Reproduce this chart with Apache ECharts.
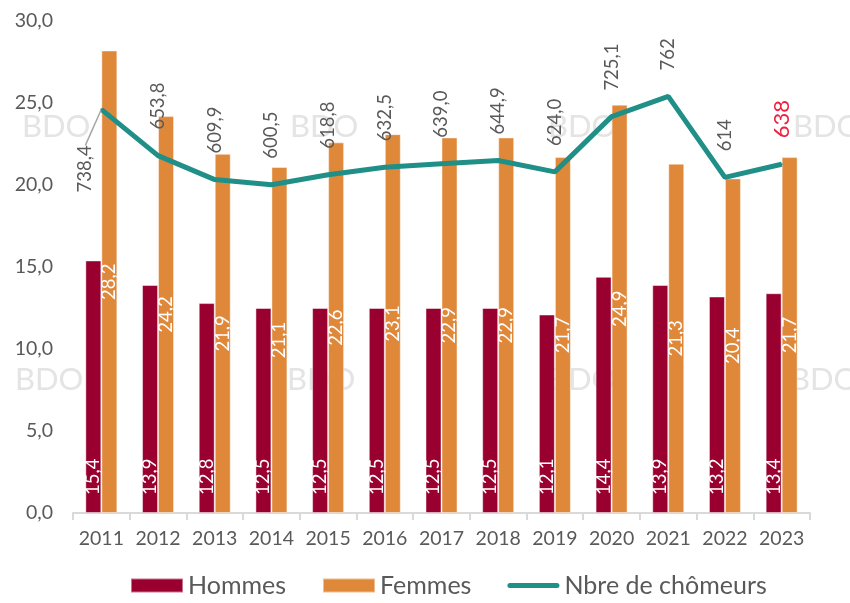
<!DOCTYPE html>
<html>
<head>
<meta charset="utf-8">
<script src="https://cdn.jsdelivr.net/npm/echarts@6/dist/echarts.min.js"></script>
<style>
  html, body { margin: 0; padding: 0; background: #fff; }
  #chart { width: 850px; height: 603px; }
</style>
</head>
<body>
<div id="chart"></div>
<script>
var years = ['2011','2012','2013','2014','2015','2016','2017','2018','2019','2020','2021','2022','2023'];
var hommes = [15.4, 13.9, 12.8, 12.5, 12.5, 12.5, 12.5, 12.5, 12.1, 14.4, 13.9, 13.2, 13.4];
var femmes = [28.2, 24.2, 21.9, 21.1, 22.6, 23.1, 22.9, 22.9, 21.7, 24.9, 21.3, 20.4, 21.7];
var chomeurs = [738.4, 653.8, 609.9, 600.5, 618.8, 632.5, 639.0, 644.9, 624.0, 725.1, 762, 614, 638];
var chomeursLabels = ['738,4','653,8','609,9','600,5','618,8','632,5','639,0','644,9','624,0','725,1','762','614','638'];

var font = "Lato, sans-serif";
var grey = '#595959';
var teal = '#1f8f87';

function fr(v) { return v.toFixed(1).replace('.', ','); }

var myChart = echarts.init(document.getElementById('chart'));

// watermarks (decoration only)
var marks = [];
[[22, 111], [290, 111], [548, 111], [793, 111], [15, 364], [287, 364], [548, 364], [790, 364]].forEach(function (p) {
    marks.push({
        type: 'text', left: p[0], top: p[1], z: -10,
        style: { text: 'BDO', fill: '#e4e4e4', font: '31px Lato, sans-serif' }
    });
});

// thin rounded line icon for the legend
var lineIcon = 'path://M0,0 M52,14 M2.5,4.5 L49.5,4.5 A2.5,2.5 0 0 1 49.5,9.5 L2.5,9.5 A2.5,2.5 0 0 1 2.5,4.5 Z';

option = {
    animation: false,
    graphic: marks,
    grid: { left: 73, right: 40, top: 21, bottom: 90 },
    legend: {
        bottom: 0,
        left: 125,
        itemWidth: 52,
        itemHeight: 14,
        itemGap: 36,
        textStyle: { fontFamily: font, fontSize: 25, color: grey },
        data: [
            { name: 'Hommes', icon: 'rect' },
            { name: 'Femmes', icon: 'rect' },
            { name: 'Nbre de chômeurs', icon: lineIcon, itemStyle: { color: teal } }
        ]
    },
    xAxis: {
        type: 'category',
        data: years,
        axisLine: { lineStyle: { color: '#d9d9d9', width: 2 } },
        axisTick: { show: true, length: 7, lineStyle: { color: '#d9d9d9', width: 2 } },
        axisLabel: { color: grey, fontFamily: font, fontSize: 19.5, margin: 16, interval: 0 }
    },
    yAxis: [
        {
            type: 'value', min: 0, max: 30, interval: 5,
            splitLine: { show: false },
            axisLabel: { color: grey, fontFamily: font, fontSize: 19.5, margin: 20, formatter: fr }
        },
        {
            type: 'value', min: 0, max: 900, show: false,
            splitLine: { show: false }
        }
    ],
    series: [
        {
            name: 'Hommes', type: 'bar', data: hommes,
            barWidth: 16, barGap: '0%',
            itemStyle: { color: '#990030', borderColor: 'rgba(255,255,255,0.45)', borderWidth: 1 },
            label: {
                show: true, position: 'insideBottom', distance: 18, rotate: 90,
                align: 'left', verticalAlign: 'middle',
                color: '#fff', fontFamily: font, fontSize: 18.5,
                formatter: function (p) { return fr(p.value); }
            }
        },
        {
            name: 'Femmes', type: 'bar', data: femmes,
            barWidth: 16, barGap: '0%',
            itemStyle: { color: '#e0883a', borderColor: 'rgba(255,255,255,0.45)', borderWidth: 1 },
            label: {
                show: true, position: 'inside', rotate: 90,
                align: 'center', verticalAlign: 'middle',
                color: '#fff', fontFamily: font, fontSize: 18.5,
                formatter: function (p) { return fr(p.value); }
            }
        },
        {
            name: 'Nbre de chômeurs', type: 'line', yAxisIndex: 1,
            data: chomeurs.map(function (v, i) {
                if (i === 0) {
                    // first label sits below-left of the point, with a leader line
                    return {
                        value: v,
                        label: { position: [-15, 37], align: 'right', verticalAlign: 'middle' },
                        labelLine: { show: true, lineStyle: { color: '#a6a6a6', width: 1.5 } }
                    };
                }
                if (i === chomeurs.length - 1) {
                    return { value: v, label: { color: '#ee2040', fontSize: 22 } };
                }
                return v;
            }),
            symbol: 'circle', symbolSize: 2, showSymbol: true, z: 5,
            lineStyle: { color: teal, width: 5 },
            itemStyle: { color: teal },
            label: {
                show: true, position: 'top', distance: 25, rotate: 90,
                align: 'left', verticalAlign: 'middle',
                color: grey, fontFamily: font, fontSize: 18.5,
                formatter: function (p) { return chomeursLabels[p.dataIndex]; }
            },
            labelLine: { show: false }
        }
    ]
};

myChart.setOption(option);
</script>
</body>
</html>
